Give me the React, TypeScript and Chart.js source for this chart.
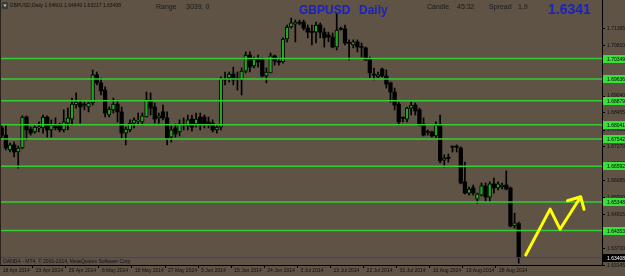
import React, { useEffect, useRef } from "react";
import { Chart, registerables } from "chart.js";

Chart.register(...registerables);

const FONT = '"Liberation Sans", Arial, sans-serif';

// ---- Data ----
const opens = [
  1.6793, 1.6768, 1.6716, 1.6734, 1.6709, 1.6723, 1.6831, 1.6789, 1.6779, 1.6793,
  1.6793, 1.6831, 1.6786, 1.6803, 1.6803, 1.6786, 1.6810, 1.6824, 1.6873, 1.6880,
  1.6873, 1.6866, 1.6880, 1.6978, 1.6950, 1.6925, 1.6838, 1.6856, 1.6876, 1.6849,
  1.6775, 1.6786, 1.6810, 1.6817, 1.6814, 1.6831, 1.6890, 1.6866, 1.6828, 1.6849,
  1.6828, 1.6761, 1.6793, 1.6779, 1.6803, 1.6800, 1.6824, 1.6807, 1.6831, 1.6831,
  1.6814, 1.6810, 1.6786, 1.6796, 1.6964, 1.6967, 1.6981, 1.6964, 1.6960, 1.6991,
  1.7047, 1.7009, 1.7033, 1.7030, 1.6974, 1.6985, 1.7044, 1.7023, 1.7023, 1.7103,
  1.7145, 1.7155, 1.7159, 1.7162, 1.7141, 1.7127, 1.7127, 1.7152, 1.7127, 1.7117,
  1.7110, 1.7075, 1.7138, 1.7138, 1.7089, 1.7082, 1.7093, 1.7075, 1.7072, 1.7033,
  1.6978, 1.6971, 1.6998, 1.6974, 1.6950, 1.6918, 1.6876, 1.6828, 1.6824, 1.6862,
  1.6873, 1.6856, 1.6807, 1.6779, 1.6779, 1.6765, 1.6803, 1.6681, 1.6688, 1.6727,
  1.6727, 1.6723, 1.6605, 1.6566, 1.6584, 1.6545, 1.6559, 1.6591, 1.6552, 1.6598,
  1.6584, 1.6587, 1.6594, 1.6584, 1.6451, 1.64601,
];
const highs = [
  1.6803, 1.6803, 1.6740, 1.6744, 1.6730, 1.6835, 1.6835, 1.6796, 1.6803, 1.6814,
  1.6838, 1.6835, 1.6821, 1.6828, 1.6810, 1.6856, 1.6862, 1.6897, 1.6915, 1.6890,
  1.6883, 1.6883, 1.6995, 1.6988, 1.6967, 1.6936, 1.6866, 1.6897, 1.6890, 1.6866,
  1.6796, 1.6821, 1.6828, 1.6845, 1.6845, 1.6918, 1.6915, 1.6880, 1.6845, 1.6873,
  1.6849, 1.6800, 1.6807, 1.6821, 1.6828, 1.6838, 1.6838, 1.6845, 1.6845, 1.6838,
  1.6831, 1.6821, 1.6803, 1.6971, 1.6988, 1.6988, 1.7005, 1.6988, 1.7002, 1.7058,
  1.7058, 1.7040, 1.7047, 1.7037, 1.7002, 1.7054, 1.7047, 1.7037, 1.7107, 1.7152,
  1.7176, 1.7169, 1.7169, 1.7169, 1.7152, 1.7152, 1.7162, 1.7159, 1.7141, 1.7127,
  1.7124, 1.7192, 1.7145, 1.7152, 1.7100, 1.7100, 1.7100, 1.7089, 1.7075, 1.7040,
  1.7002, 1.6988, 1.7002, 1.6995, 1.6953, 1.6932, 1.6883, 1.6831, 1.6866, 1.6883,
  1.6880, 1.6862, 1.6828, 1.6786, 1.6782, 1.6814, 1.6838, 1.6699, 1.6702, 1.6730,
  1.6734, 1.6727, 1.6674, 1.6587, 1.6594, 1.6566, 1.6601, 1.6601, 1.6605, 1.6618,
  1.6605, 1.6601, 1.6643, 1.6587, 1.6496, 1.64649,
];
const lows = [
  1.6758, 1.6716, 1.6709, 1.6692, 1.6653, 1.6720, 1.6751, 1.6768, 1.6775, 1.6779,
  1.6775, 1.6761, 1.6761, 1.6786, 1.6779, 1.6779, 1.6786, 1.6803, 1.6862, 1.6810,
  1.6856, 1.6849, 1.6873, 1.6943, 1.6908, 1.6831, 1.6831, 1.6845, 1.6814, 1.6758,
  1.6734, 1.6779, 1.6793, 1.6803, 1.6803, 1.6831, 1.6838, 1.6810, 1.6810, 1.6821,
  1.6734, 1.6744, 1.6761, 1.6765, 1.6786, 1.6786, 1.6782, 1.6796, 1.6786, 1.6793,
  1.6793, 1.6779, 1.6775, 1.6786, 1.6943, 1.6953, 1.6943, 1.6925, 1.6908, 1.6985,
  1.6988, 1.7002, 1.7005, 1.6971, 1.6950, 1.6985, 1.7012, 1.7012, 1.7019, 1.7093,
  1.7141, 1.7093, 1.7152, 1.7134, 1.7107, 1.7082, 1.7089, 1.7107, 1.7075, 1.7093,
  1.7072, 1.7065, 1.7134, 1.7082, 1.7030, 1.7072, 1.7058, 1.7040, 1.7028, 1.6967,
  1.6960, 1.6967, 1.6971, 1.6932, 1.6883, 1.6856, 1.6803, 1.6814, 1.6814, 1.6838,
  1.6838, 1.6800, 1.6765, 1.6768, 1.6761, 1.6758, 1.6671, 1.6657, 1.6674, 1.6709,
  1.6709, 1.6598, 1.6563, 1.6559, 1.6559, 1.6531, 1.6556, 1.6535, 1.6535, 1.6566,
  1.6577, 1.6580, 1.6577, 1.6448, 1.6444, 1.63217,
];
const closes = [
  1.6768, 1.6723, 1.6734, 1.6709, 1.6723, 1.6831, 1.6786, 1.6775, 1.6796, 1.6794,
  1.6831, 1.6786, 1.6803, 1.6793, 1.6786, 1.6814, 1.6828, 1.6876, 1.6883, 1.6866,
  1.6872, 1.6880, 1.6978, 1.6950, 1.6922, 1.6845, 1.6859, 1.6876, 1.6849, 1.6775,
  1.6789, 1.6810, 1.6821, 1.6818, 1.6835, 1.6890, 1.6862, 1.6824, 1.6835, 1.6828,
  1.6758, 1.6786, 1.6772, 1.6807, 1.6804, 1.6821, 1.6796, 1.6824, 1.6803, 1.6803,
  1.6807, 1.6786, 1.6796, 1.6964, 1.6960, 1.6981, 1.6960, 1.6963, 1.6991, 1.7047,
  1.7005, 1.7033, 1.7023, 1.6974, 1.6988, 1.7044, 1.7026, 1.7022, 1.7103, 1.7145,
  1.7159, 1.7162, 1.7158, 1.7141, 1.7127, 1.7126, 1.7152, 1.7127, 1.7107, 1.7110,
  1.7075, 1.7134, 1.7137, 1.7089, 1.7088, 1.7093, 1.7075, 1.7074, 1.7030, 1.6985,
  1.6977, 1.6978, 1.6974, 1.6946, 1.6918, 1.6873, 1.6814, 1.6827, 1.6862, 1.6873,
  1.6852, 1.6803, 1.6768, 1.6778, 1.6765, 1.6803, 1.6678, 1.6688, 1.6687, 1.6726,
  1.6726, 1.6601, 1.6566, 1.6580, 1.6566, 1.6563, 1.6591, 1.6552, 1.6598, 1.6584,
  1.6598, 1.6594, 1.6580, 1.6451, 1.6462, 1.63408,
];

const dateLabels = [
  "18 Apr 2014", "23 Apr 2014", "29 Apr 2014", "8 May 2014", "18 May 2014", "27 May 2014",
  "5 Jun 2014", "15 Jun 2014", "24 Jun 2014", "3 Jul 2014", "13 Jul 2014", "22 Jul 2014",
  "31 Jul 2014", "10 Aug 2014", "19 Aug 2014", "28 Aug 2014",
];
const dateTickPositions = [-0.5, 7.5, 15.5, 23.5, 31.5, 39.5, 47.5, 55.5, 63.5, 71.5, 79.5, 87.5, 95.5, 103.5, 111.5, 119.5];

const priceTicks = [
  1.71395, 1.7081, 1.70225, 1.6964, 1.6904, 1.68455, 1.67855, 1.6727,
  1.66685, 1.66085, 1.655, 1.64915, 1.6433, 1.6373, 1.63145,
];

const levelPrices = [1.70349, 1.69636, 1.68879, 1.68041, 1.67542, 1.66592, 1.65348, 1.64353];
const currentPrice = 1.63408;

const arrowX = [126.7, 132.6, 135.0, 140.0, 136.8, 140.0, 140.8];
const arrowY = [1.635, 1.651, 1.644, 1.6553, 1.6539, 1.6553, 1.6509];

const symbol = "GBPUSD";
const period = "Daily";
const rangeText = "3039, 0";
const candleTime = "45:32";
const spreadText = "1.9";
const bidText = "1.6341";
const copyright = "OANDA - MT4, \u00A9 2001-2014, MetaQuotes Software Corp.";

// ---- Styles ----
const BG = "#5f5345";
const BULL = "#20a820";
const BEAR = "#000000";
const LEVEL = "#32cd32";
const TAG = "#3ae03a";
const BLUE_LINE = "#3a3aa8";
const TITLE_BLUE = "#1a22c0";
const Y_MIN = 1.63152;
const Y_MAX = 1.7239;
const X_MIN = -0.41;
const X_MAX = 145.14;

const overlay = {
  id: "mt4overlay",
  afterDraw(chart: any) {
    const { ctx, chartArea: a } = chart;
    const ys = chart.scales.y;
    ctx.save();
    ctx.fillStyle = "#2a231b";
    ctx.fillRect(0, 0, 1, a.bottom);

    ctx.textAlign = "left";
    ctx.textBaseline = "middle";
    ctx.font = `5px ${FONT}`;
    for (const p of levelPrices) {
      const y = Math.round(ys.getPixelForValue(p));
      ctx.fillStyle = TAG;
      ctx.fillRect(a.right + 1, y - 4, 24, 8);
      ctx.fillStyle = "#000";
      ctx.fillText(p.toFixed(5), a.right + 5, y + 0.5);
    }
    const yc = Math.round(ys.getPixelForValue(currentPrice));
    ctx.fillStyle = "#000";
    ctx.fillRect(a.right + 1, yc - 4, 24, 8);
    ctx.fillStyle = "#fff";
    ctx.fillText(currentPrice.toFixed(5), a.right + 5, yc + 0.5);

    ctx.fillStyle = "#3a3a3a";
    ctx.fillRect(2, 2, 6, 7);
    ctx.fillStyle = "#cfcfcf";
    ctx.beginPath();
    ctx.moveTo(3.3, 4.5);
    ctx.lineTo(6.7, 4.5);
    ctx.lineTo(5, 7);
    ctx.closePath();
    ctx.fill();

    const n = opens.length - 1;
    ctx.fillStyle = "#111";
    ctx.font = `5px ${FONT}`;
    ctx.fillText(
      `${symbol},${period} ${opens[n].toFixed(5)} ${highs[n].toFixed(5)} ${lows[n].toFixed(5)} ${closes[n].toFixed(5)}`,
      9.5,
      5.5
    );

    ctx.font = `7px ${FONT}`;
    ctx.fillStyle = "#1a1a1a";
    ctx.fillText("Range", 156, 7);
    ctx.fillText(rangeText, 186, 7);
    ctx.fillText("Candle", 427, 6.8);
    ctx.fillText(candleTime, 457, 6.8);
    ctx.fillText("Spread", 489, 6.8);
    ctx.fillText(spreadText, 518, 6.8);

    ctx.fillStyle = TITLE_BLUE;
    ctx.font = `bold 12px ${FONT}`;
    ctx.fillText(symbol, 299, 10.5);
    ctx.fillText(period, 359, 10.5);
    ctx.font = `bold 14px ${FONT}`;
    ctx.fillText(bidText, 548, 10.5);

    ctx.fillStyle = "#111";
    ctx.font = `5px ${FONT}`;
    ctx.fillText(copyright, 3, 261.5);
    ctx.restore();
  },
};

export default function App() {
  const ref = useRef<HTMLCanvasElement>(null);
  useEffect(() => {
    document.body.style.margin = "0";
    document.body.style.background = BG;
    const canvas = ref.current!;
    const isBull = opens.map((o, i) => closes[i] > o);
    const datasets: any[] = [];
    levelPrices.forEach((p) =>
      datasets.push({
        type: "line",
        data: [
          { x: X_MIN, y: p },
          { x: X_MAX, y: p },
        ],
        borderColor: LEVEL,
        borderWidth: 1.5,
        pointRadius: 0,
        order: 1,
      })
    );
    datasets.push({
      type: "line",
      data: [
        { x: X_MIN, y: currentPrice },
        { x: X_MAX, y: currentPrice },
      ],
      borderColor: BLUE_LINE,
      borderWidth: 1,
      pointRadius: 0,
      order: 1,
    });
    datasets.push({
      type: "bar",
      data: opens.map((_, i) => ({ x: i, y: [lows[i], highs[i]] })),
      backgroundColor: "#000",
      barThickness: 1,
      grouped: false,
      order: 3,
    });
    datasets.push({
      type: "bar",
      data: opens.map((o, i) => ({ x: i, y: [o, closes[i]] })),
      backgroundColor: isBull.map((b) => (b ? BULL : BEAR)),
      borderColor: "#000",
      borderWidth: isBull.map((b) => (b ? 1 : 0)),
      borderSkipped: false,
      barThickness: 3.6,
      grouped: false,
      minBarLength: 1,
      order: 2,
    });
    datasets.push({
      type: "line",
      data: arrowX.map((x, i) => ({ x, y: arrowY[i] })),
      borderColor: "#ffff00",
      borderWidth: 3,
      pointRadius: 0,
      borderCapStyle: "round",
      borderJoinStyle: "round",
      order: 0,
    });

    const chart = new Chart(canvas, {
      type: "bar",
      data: { datasets },
      options: {
        animation: false,
        responsive: false,
        events: [],
        layout: { padding: 0 },
        plugins: { legend: { display: false }, tooltip: { enabled: false } },
        scales: {
          x: {
            type: "linear",
            min: X_MIN,
            max: X_MAX,
            offset: false,
            afterBuildTicks: (s: any) => {
              s.ticks = dateTickPositions.map((v) => ({ value: v }));
            },
            afterFit: (s: any) => {
              s.height = 11;
              s.paddingLeft = 0;
              s.paddingRight = 0;
            },
            ticks: {
              align: "start",
              autoSkip: false,
              maxRotation: 0,
              minRotation: 0,
              padding: 0,
              labelOffset: 3,
              color: "#111",
              font: { family: FONT, size: 5 },
              callback: (_v: any, idx: number) => dateLabels[idx],
            },
            grid: { drawOnChartArea: false, tickLength: 3, color: "#000", offset: false },
            border: { color: "#000" },
          },
          y: {
            type: "linear",
            position: "right",
            min: Y_MIN,
            max: Y_MAX,
            beginAtZero: false,
            afterBuildTicks: (s: any) => {
              s.ticks = priceTicks.map((v) => ({ value: v }));
            },
            afterFit: (s: any) => {
              s.width = 23;
              s.paddingTop = 0;
              s.paddingBottom = 0;
            },
            ticks: {
              autoSkip: false,
              padding: 2,
              color: "#111",
              font: { family: FONT, size: 5 },
              callback: (v: any) => Number(v).toFixed(5),
            },
            grid: { drawOnChartArea: false, tickLength: 3, color: "#000" },
            border: { color: "#000" },
          },
        },
      } as any,
      plugins: [overlay],
    });
    return () => chart.destroy();
  }, []);
  return (
    <div style={{ position: "fixed", left: 0, top: 0, width: 625, height: 276, background: BG }}>
      <canvas ref={ref} width={625} height={276} style={{ display: "block" }} />
    </div>
  );
}
